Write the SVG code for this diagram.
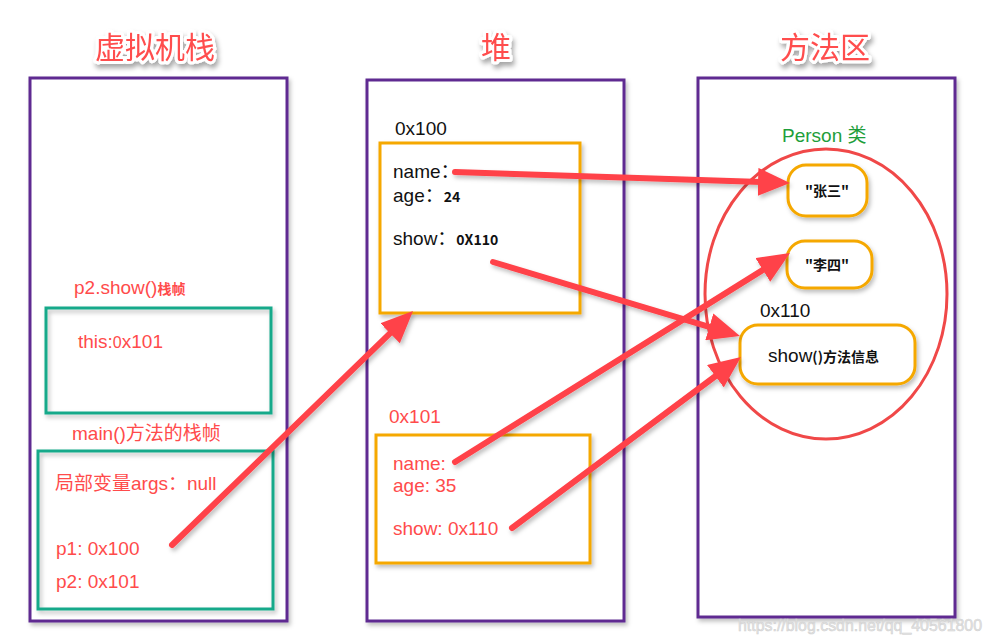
<svg xmlns="http://www.w3.org/2000/svg" width="992" height="643" viewBox="0 0 992 643">
<defs>
<filter id="sh" x="-10%" y="-10%" width="130%" height="130%">
<feDropShadow dx="2" dy="3" stdDeviation="2" flood-color="#000" flood-opacity="0.25"/>
</filter>
<filter id="tsh" x="-20%" y="-30%" width="150%" height="170%">
<feDropShadow dx="2" dy="4" stdDeviation="2.5" flood-color="#000" flood-opacity="0.35"/>
</filter>
<marker id="ah" markerUnits="userSpaceOnUse" markerWidth="32" markerHeight="28" viewBox="0 0 32 28" refX="12" refY="14" orient="auto">
<path d="M0,0 L32,14 L0,28 z" fill="#FF4248"/>
</marker>
<style>
.panel{fill:#fff;stroke:#5E2C91;stroke-width:3}
.teal{fill:none;stroke:#16A98A;stroke-width:3}
.org{fill:#fff;stroke:#F5A800;stroke-width:3}
.title{font-family:"Noto Sans CJK SC",sans-serif;font-size:30px;fill:#FF4D4D;stroke:#fff;stroke-width:6px;stroke-linejoin:round;paint-order:stroke;text-anchor:middle}
.t{font-family:"Liberation Sans","Noto Sans CJK SC",sans-serif;font-size:19px}
.red{fill:#FF4B4B}
.blk{fill:#111}
.sb{font-family:"Noto Sans CJK SC",sans-serif;font-weight:bold;font-size:14px}
.arr{fill:none;stroke:#FF4248;stroke-width:6;stroke-linecap:round;marker-end:url(#ah)}
</style>
</defs>
<rect width="992" height="643" fill="#fff"/>

<g id="titles" filter="url(#tsh)">
<text class="title" x="155" y="58">虚拟机栈</text>
<text class="title" x="496" y="58">堆</text>
<text class="title" x="825" y="58">方法区</text>
</g>

<g id="stack" filter="url(#sh)">
<rect class="panel" x="30" y="78" width="257" height="543"/>
</g>
<g id="heap" filter="url(#sh)">
<rect class="panel" x="367" y="80" width="257" height="541"/>
</g>
<g id="method-area" filter="url(#sh)">
<rect class="panel" x="698" y="78" width="257" height="539"/>
</g>

<g id="frame-show">
<text class="t red" x="74" y="294">p2.show()<tspan class="sb">栈帧</tspan></text>
<rect class="teal" x="46" y="308" width="225" height="105" filter="url(#sh)"/>
<text class="t red" x="78" y="348">this:<tspan font-size="16">0</tspan>x101</text>
</g>

<g id="frame-main">
<text class="t red" x="72" y="440">main()方法的栈帧</text>
<rect class="teal" x="38" y="451" width="235" height="158" filter="url(#sh)"/>
<text class="t red" x="55" y="490">局部变量args：null</text>
<text class="t red" x="56" y="555">p1: 0x100</text>
<text class="t red" x="56" y="588">p2: 0x101</text>
</g>

<g id="obj-0x100">
<text class="t blk" x="395" y="135">0x100</text>
<rect class="org" x="380" y="143" width="200" height="170" filter="url(#sh)"/>
<text class="t blk" x="393" y="178">name：</text>
<text class="t blk" x="393" y="202">age：<tspan class="sb" font-size="13">24</tspan></text>
<text class="t blk" x="393" y="245">show：<tspan class="sb" font-size="13">0X110</tspan></text>
</g>

<g id="obj-0x101">
<text class="t red" x="389" y="423">0x101</text>
<rect class="org" x="376" y="435" width="214" height="128" filter="url(#sh)"/>
<text class="t red" x="393" y="470">name:</text>
<text class="t red" x="393" y="492">age: 35</text>
<text class="t red" x="393" y="535">show: 0x110</text>
</g>

<g id="person-class">
<text class="t" x="782" y="142" fill="#1E9E3A" font-size="18">Person 类</text>
<ellipse cx="826" cy="294" rx="121" ry="145" fill="none" stroke="#F04848" stroke-width="3"/>
</g>

<g id="str-zhangsan">
<rect class="org" x="788" y="165" width="79" height="51" rx="18" filter="url(#sh)"/>
<text class="sb blk" x="827" y="196" text-anchor="middle" font-size="13">"张三"</text>
</g>

<g id="str-lisi">
<rect class="org" x="787" y="241" width="85" height="47" rx="18" filter="url(#sh)"/>
<text class="sb blk" x="827" y="270" text-anchor="middle" font-size="13">"李四"</text>
</g>

<g id="show-method">
<text class="t blk" x="760" y="317" font-size="16">0x110</text>
<rect class="org" x="740" y="325" width="175" height="59" rx="18" filter="url(#sh)"/>
<text class="t blk" x="768" y="362">show<tspan class="sb">()方法信息</tspan></text>
</g>

<g id="connectors" filter="url(#sh)">
<line class="arr" x1="455" y1="172" x2="770" y2="182.3"/>
<line class="arr" x1="493" y1="262" x2="720.8" y2="330.3"/>
<line class="arr" x1="455" y1="462" x2="773" y2="263.6"/>
<line class="arr" x1="512" y1="528" x2="725" y2="369"/>
<line class="arr" x1="172" y1="545" x2="398.7" y2="324.9"/>
</g>

<text x="738" y="631" font-family="Liberation Sans, sans-serif" font-size="16" textLength="244" lengthAdjust="spacingAndGlyphs" fill="#e4e4e4" stroke="#cfcfcf" stroke-width="0.5">https://blog.csdn.net/qq_40561800</text>
</svg>
